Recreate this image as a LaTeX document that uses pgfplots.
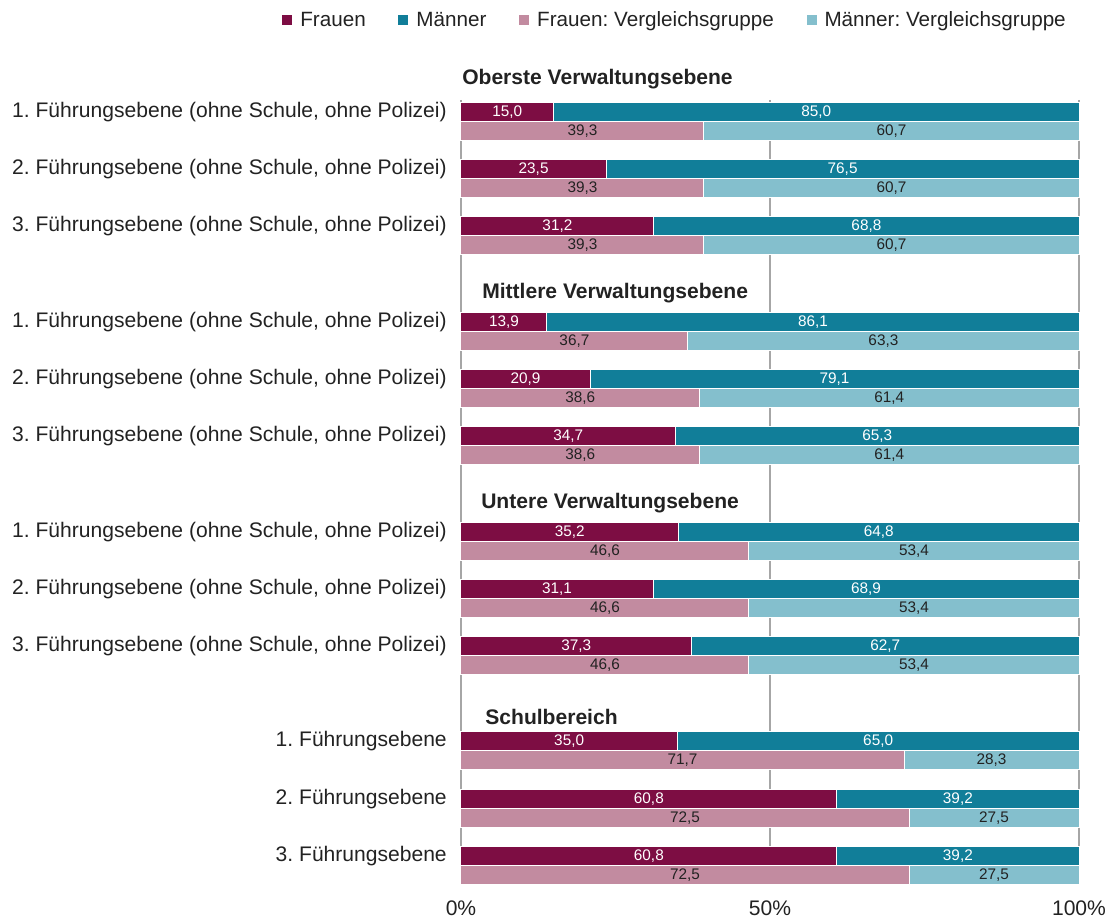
\documentclass[border=0pt]{standalone}
\usepackage{fontspec}
\setmainfont{Liberation Sans}
\usepackage{pgfplots}
\pgfplotsset{compat=1.18}
\usepackage{pgfplotstable}
\definecolor{fr}{HTML}{7D0D43}
\definecolor{ma}{HTML}{117E99}
\definecolor{frv}{HTML}{C28BA0}
\definecolor{mav}{HTML}{84BFCD}
\definecolor{gridc}{HTML}{A6A6A6}
\definecolor{txt}{HTML}{222222}
\frenchspacing

\pgfplotstableread{
y yc f m vf vm
112 131 15.0 85.0 39.3 60.7
169 188 23.5 76.5 39.3 60.7
226 245 31.2 68.8 39.3 60.7
322 341 13.9 86.1 36.7 63.3
379 398 20.9 79.1 38.6 61.4
436 455 34.7 65.3 38.6 61.4
532 551 35.2 64.8 46.6 53.4
589 608 31.1 68.9 46.6 53.4
646 665 37.3 62.7 46.6 53.4
741 760 35.0 65.0 71.7 28.3
799 818 60.8 39.2 72.5 27.5
856 875 60.8 39.2 72.5 27.5
}\data

\newcommand{\bigf}{\fontsize{15.8}{18}\selectfont}
\newcommand{\legf}{\fontsize{15.5}{18}\selectfont}
\newcommand{\valf}{\fontsize{11.5}{13}\selectfont}
\newcommand{\lab}{Führungsebene (ohne Schule, ohne Polizei)}

\pgfplotsset{
  barplot/.style={xbar, bar width=14.25pt, bar shift=0pt, draw=white, line width=0.75pt, forget plot},
  lblplot/.style={only marks, mark=*, mark size=0pt, mark options={draw=none, fill=none}, forget plot,
    point meta=explicit,
    nodes near coords={\pgfmathprintnumber[fixed,fixed zerofill,precision=1,use comma,assume math mode=true]{\pgfplotspointmeta}},
    every node near coord/.append style={anchor=center, inner sep=0pt, font=\valf, text=#1}},
}

\begin{document}
\begin{tikzpicture}
\begin{axis}[
  at={(0,0)}, anchor=south west,
  scale only axis, width=463.5pt, height=588.75pt,
  xmin=0, xmax=100, ymin=100, ymax=885, y dir=reverse,
  clip=false,
  axis line style={draw=none}, tick style={draw=none},
  xtick={0,50,100}, xticklabels={0\%,50\%,100\%},
  xmajorgrids, grid style={gridc, line width=1.1pt},
  ytick={112,169,226,322,379,436,532,589,646,741,799,856},
  yticklabels={
    {1. \lab}, {2. \lab}, {3. \lab},
    {1. \lab}, {2. \lab}, {3. \lab},
    {1. \lab}, {2. \lab}, {3. \lab},
    {1. Führungsebene\hspace{6.5pt}},
    {2. Führungsebene\hspace{6.5pt}},
    {3. Führungsebene\hspace{6.5pt}}},
  yticklabel style={inner sep=0pt, xshift=-10.5pt, font=\bigf, text=txt},
  xticklabel style={inner sep=0pt, yshift=-11.5pt, font=\bigf, text=txt},
  legend columns=4,
  legend style={draw=none, fill=none, inner sep=0pt, at={(-0.2896,1.1019)}, anchor=west,
    font=\legf, text=txt, nodes={inner sep=0pt},
    /tikz/every even column/.append style={column sep=24.5pt},
    /tikz/every odd column/.append style={column sep=6pt},
    /tikz/column 6/.append style={column sep=30.5pt}},
  legend image code/.code={\fill[#1] (0pt,-3.75pt) rectangle (7.5pt,3.75pt);},
]
\addlegendimage{fill=fr, draw=none}\addlegendentry{Frauen}
\addlegendimage{fill=ma, draw=none}\addlegendentry{Männer}
\addlegendimage{fill=frv, draw=none}\addlegendentry{Frauen: Vergleichsgruppe}
\addlegendimage{fill=mav, draw=none}\addlegendentry{Männer: Vergleichsgruppe}

% Männer segment drawn as full stack (Frauen + Männer), Frauen on top of it
\addplot[barplot, fill=ma] table[x expr=\thisrow{f}+\thisrow{m}, y=y] {\data};
\addplot[barplot, fill=fr] table[x=f, y=y] {\data};
\addplot[barplot, fill=mav] table[x expr=\thisrow{vf}+\thisrow{vm}, y=yc] {\data};
\addplot[barplot, fill=frv] table[x=vf, y=yc] {\data};

\addplot[lblplot=white] table[x expr=\thisrow{f}/2, y=y, meta=f] {\data};
\addplot[lblplot=white] table[x expr=\thisrow{f}+\thisrow{m}/2, y=y, meta=m] {\data};
\addplot[lblplot=txt] table[x expr=\thisrow{vf}/2, y=yc, meta=vf] {\data};
\addplot[lblplot=txt] table[x expr=\thisrow{vf}+\thisrow{vm}/2, y=yc, meta=vm] {\data};

\node[anchor=west, inner sep=0pt, font=\bigf\bfseries, text=txt] at (axis cs:0.16,79) {Oberste Verwaltungsebene};
\node[anchor=west, inner sep=0pt, font=\bigf\bfseries, text=txt] at (axis cs:3.4,293) {Mittlere Verwaltungsebene};
\node[anchor=west, inner sep=0pt, font=\bigf\bfseries, text=txt] at (axis cs:3.24,503) {Untere Verwaltungsebene};
\node[anchor=west, inner sep=0pt, font=\bigf\bfseries, text=txt] at (axis cs:3.9,717) {Schulbereich};
\end{axis}
\pgfresetboundingbox
\useasboundingbox (-345.75pt,-25.5pt) rectangle (486pt,663.75pt);
\end{tikzpicture}
\end{document}
